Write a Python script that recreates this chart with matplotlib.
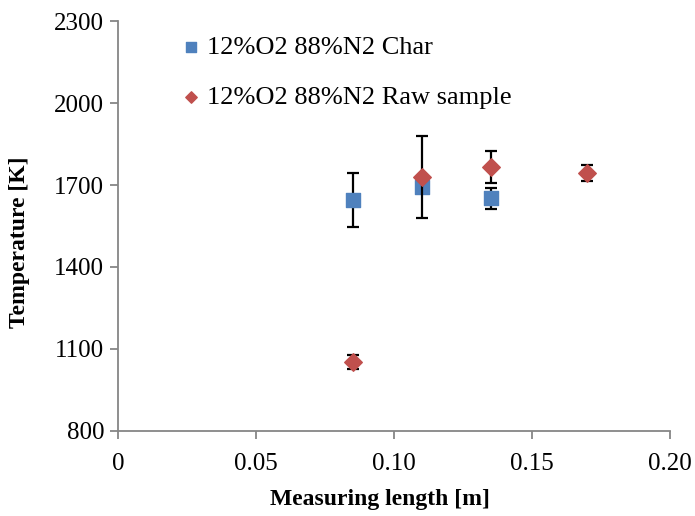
import matplotlib.pyplot as plt

plt.rcParams['font.family'] = ['Liberation Serif', 'DejaVu Serif']

# Data
char_x = [0.085, 0.110, 0.135]
char_t = [1645, 1693, 1651]
char_err = [100, 22, 37]

raw_x = [0.085, 0.110, 0.135, 0.170]
raw_t = [1052, 1729, 1767, 1743]
raw_err = [25, 150, 58, 29]

x_ticks = [0, 0.05, 0.10, 0.15, 0.20]
x_labels = ["0", "0.05", "0.10", "0.15", "0.20"]
y_ticks = [800, 1100, 1400, 1700, 2000, 2300]

blue = "#4F81BD"
red = "#C0504D"
gray = "#868686"

fig = plt.figure(figsize=(6.95, 5.16), dpi=100)
ax = fig.add_axes([0.170, 0.165, 0.794, 0.794])

ax.errorbar(char_x, char_t, yerr=char_err, fmt="none", ecolor="black",
            elinewidth=1.6, capsize=4.5, capthick=1.6, zorder=2)
ax.scatter(char_x, char_t, marker="s", s=100, color=blue, zorder=3,
           label="12%O2 88%N2 Char")
ax.errorbar(raw_x, raw_t, yerr=raw_err, fmt="none", ecolor="black",
            elinewidth=1.6, capsize=4.5, capthick=1.6, zorder=4)
ax.scatter(raw_x, raw_t, marker="D", s=80, color=red, zorder=5,
           label="12%O2 88%N2 Raw sample")

ax.set_xlim(0, 0.20)
ax.set_ylim(800, 2300)
ax.set_xticks(x_ticks)
ax.set_xticklabels(x_labels)
ax.set_yticks(y_ticks)

for side in ["top", "right"]:
    ax.spines[side].set_visible(False)
for side in ["left", "bottom"]:
    ax.spines[side].set_color(gray)
    ax.spines[side].set_linewidth(1.3)
ax.tick_params(axis="both", direction="out", length=6, width=1.3,
               color=gray, labelsize=18)
ax.tick_params(axis="x", pad=10)
ax.tick_params(axis="y", pad=4)

ax.set_xlabel("Measuring length [m]", fontsize=17, fontweight="bold")
ax.set_ylabel("Temperature [K]", fontsize=17, fontweight="bold")
ax.xaxis.set_label_coords(0.475, -0.141)
ax.yaxis.set_label_coords(-0.16, 0.46)

leg = ax.legend(loc="upper left", bbox_to_anchor=(0.07, 1.022), frameon=False,
                fontsize=19, labelspacing=1.0, handletextpad=0.2,
                handlelength=0.8, markerscale=0.65, scatterpoints=1)

fig.savefig("out.png", dpi=100)
